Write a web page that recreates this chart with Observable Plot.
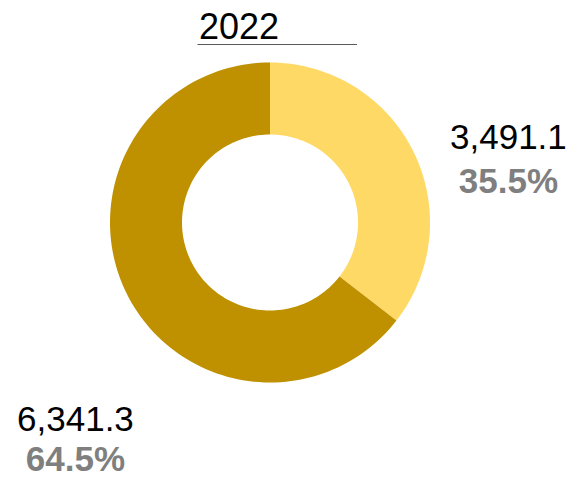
<!DOCTYPE html>
<html>
<head>
<meta charset="utf-8">
<script src="https://cdn.jsdelivr.net/npm/d3@7"></script>
<script src="https://cdn.jsdelivr.net/npm/@observablehq/plot@0.6"></script>
<style>
  html, body { margin: 0; padding: 0; background: #fff; }
  #chart svg { display: block; }
</style>
</head>
<body>
<div id="chart"></div>
<script>
// Donut data
const year = "2022";
const categories = ["Segment 1", "Segment 2"];
const values = [3491.1, 6341.3];
const colors = ["#FFD966", "#BF9000"];

const total = d3.sum(values);
const fmtValue = d3.format(",.1f");
const fmtPct = d3.format(".1%");

// Ring geometry in the unit frame (outer radius = 1)
const innerRatio = 88 / 160;
const pie = d3.pie().sort(null).startAngle(0).endAngle(2 * Math.PI);
const arcs = pie(values);

const ringPoints = [];
arcs.forEach((a, i) => {
  const steps = 120;
  const pts = [];
  for (let k = 0; k <= steps; k++) {
    const t = a.startAngle + (a.endAngle - a.startAngle) * k / steps;
    pts.push({category: categories[i], x: Math.sin(t), y: Math.cos(t)});
  }
  for (let k = steps; k >= 0; k--) {
    const t = a.startAngle + (a.endAngle - a.startAngle) * k / steps;
    pts.push({category: categories[i], x: innerRatio * Math.sin(t), y: innerRatio * Math.cos(t)});
  }
  ringPoints.push(...pts);
});

// Label anchors (unit frame) for each slice: [x, value baseline, percent baseline]
const labelAnchors = [
  [1.49, 0.4625, 0.1875],
  [-1.216, -1.30, -1.555]
];
const labels = values.map((v, i) => ({
  x: labelAnchors[i][0],
  yv: labelAnchors[i][1],
  yp: labelAnchors[i][2],
  value: fmtValue(v),
  pct: fmtPct(v / total)
}));

const font = "Liberation Sans, Arial, sans-serif";

const chart = Plot.plot({
  width: 573,
  height: 480,
  marginLeft: 109.5,
  marginRight: 143.5,
  marginTop: 62,
  marginBottom: 98,
  style: {fontFamily: font, background: "#fff", overflow: "visible"},
  x: {domain: [-1, 1], axis: null},
  y: {domain: [-1, 1], axis: null},
  color: {type: "ordinal", domain: categories, range: colors},
  marks: [
    Plot.line(ringPoints, {x: "x", y: "y", z: "category", fill: "category", stroke: "none", curve: "linear"}),
    // title with underline
    Plot.text([year], {x: -0.44375, y: 1.144, text: d => d, textAnchor: "start", lineAnchor: "bottom",
      fontSize: 36, fill: "#000"}),
    Plot.ruleY([1.1125], {x1: -0.45, x2: 0.547, stroke: "#595959", strokeWidth: 1}),
    // slice labels
    Plot.text(labels, {x: "x", y: "yv", text: "value", textAnchor: "middle", lineAnchor: "bottom",
      fontSize: 35, fill: "#000"}),
    Plot.text(labels, {x: "x", y: "yp", text: "pct", textAnchor: "middle", lineAnchor: "bottom",
      fontSize: 35, fontWeight: "bold", fill: "#7F7F7F"})
  ]
});

document.getElementById("chart").appendChild(chart);
</script>
</body>
</html>
